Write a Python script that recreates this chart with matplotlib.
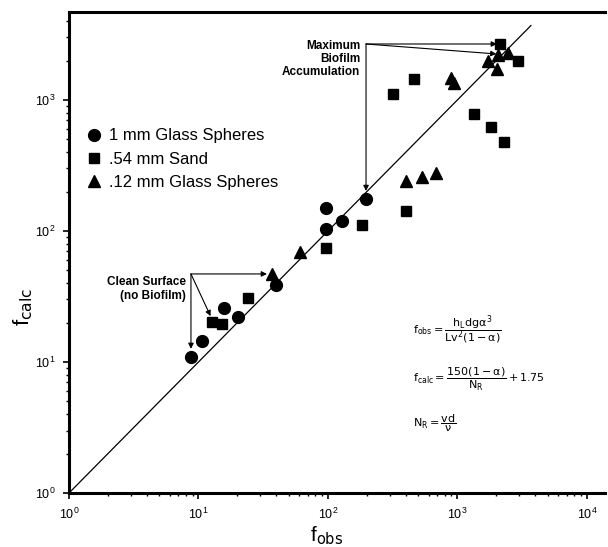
import numpy as np
import matplotlib
matplotlib.use('Agg')
import matplotlib.pyplot as plt
from matplotlib.lines import Line2D

plt.rcParams['font.family'] = ['Liberation Sans', 'DejaVu Sans']
plt.rcParams['mathtext.fontset'] = 'dejavusans'

# ---------------- data (f_obs, f_calc) ----------------
glass1_obs = [8.8, 10.7, 15.7, 20.2, 40, 96, 97, 129, 198]
glass1_calc = [11.0, 14.5, 26, 22.1, 38.7, 103, 149, 120, 175]

sand_obs = [12.8, 15.2, 24.2, 96, 182, 317, 403, 462, 1355, 1824, 2140, 2290, 2950]
sand_calc = [20.3, 19.4, 30.6, 74, 111, 1117, 142, 1445, 782, 622, 2660, 478, 1995]

glass12_obs = [37.3, 60.5, 403, 535, 680, 885, 935, 1714, 2036, 2045, 2455]
glass12_calc = [47, 68.8, 241, 257, 279, 1480, 1341, 1985, 1715, 2200, 2272]

series_labels = ['1 mm Glass Spheres', '.54 mm Sand', '.12 mm Glass Spheres']

# line of perfect agreement
line_x = [1, 3700]
line_y = [1, 3700]

# ---------------- figure ----------------
fig = plt.figure(figsize=(6.08, 5.47), dpi=100)
ax = fig.add_axes([0.1135, 0.0987, 0.8815, 0.879])
ax.set_xscale('log')
ax.set_yscale('log')
ax.set_xlim(1, 10 ** 4.14)
ax.set_ylim(1, 10 ** 3.67)

ax.plot(line_x, line_y, '-', color='black', lw=0.9)

ax.plot(glass1_obs, glass1_calc, 'o', color='black', ms=8.5, ls='none')
ax.plot(sand_obs, sand_calc, 's', color='black', ms=7.5, ls='none')
ax.plot(glass12_obs, glass12_calc, '^', color='black', ms=8, ls='none')

# spines / ticks
for s in ['left', 'bottom', 'top']:
    ax.spines[s].set_linewidth(2.2)
ax.spines['right'].set_visible(False)
ax.tick_params(which='major', direction='out', length=4, width=1.2,
               labelsize=9, pad=6, top=False, right=False)
ax.tick_params(which='minor', direction='out', length=2.5, width=1,
               top=False, right=False)

ax.set_xlabel(r'f$_{\mathrm{obs}}$', fontsize=15)
ax.set_ylabel(r'f$_{\mathrm{calc}}$', fontsize=16)
ax.xaxis.set_label_coords(0.48, -0.088)
ax.xaxis.label.set_va('center')
ax.yaxis.set_label_coords(-0.086, 0.387)
ax.yaxis.label.set_va('center')

# legend
handles = [Line2D([], [], marker=m, color='black', ls='none', ms=ms)
           for m, ms in [('o', 8.5), ('s', 7.5), ('^', 8)]]
ax.legend(handles, series_labels, loc='upper left', bbox_to_anchor=(0.01, 0.772),
          frameon=False, fontsize=12, handletextpad=0.05, labelspacing=0.5,
          borderaxespad=0, handlelength=1.6)

# annotations: Maximum Biofilm Accumulation
arw = dict(arrowstyle='-|>', color='black', lw=0.8, mutation_scale=8,
           shrinkA=0, shrinkB=0)
corner = (197, 2675)
ax.annotate('', xy=(2018, 2675), xytext=corner, arrowprops=arw)
ax.annotate('', xy=(2000, 2245), xytext=corner, arrowprops=arw)
ax.annotate('', xy=(197, 202), xytext=corner, arrowprops=arw)
ax.text(177, 2050, 'Maximum\nBiofilm\nAccumulation', ha='right', va='center',
        fontsize=8.5, fontweight='bold', linespacing=1.15)

# annotations: Clean Surface
corner2 = (8.75, 47)
ax.annotate('', xy=(33.8, 47), xytext=corner2, arrowprops=arw)
ax.annotate('', xy=(12.4, 22.4), xytext=corner2, arrowprops=arw)
ax.annotate('', xy=(8.75, 12.6), xytext=corner2, arrowprops=arw)
ax.text(8.0, 36, 'Clean Surface\n(no Biofilm)', ha='right', va='center',
        fontsize=8.5, fontweight='bold', linespacing=1.2)

# equations
ax.text(0.642, 0.339, r'$\mathrm{f_{obs}=\dfrac{h_L dg\alpha^3}{Lv^2(1-\alpha)}}$',
        transform=ax.transAxes, fontsize=8, ha='left', va='center')
ax.text(0.642, 0.237, r'$\mathrm{f_{calc}=\dfrac{150(1-\alpha)}{N_R}+1.75}$',
        transform=ax.transAxes, fontsize=8, ha='left', va='center')
ax.text(0.642, 0.146, r'$\mathrm{N_R=\dfrac{vd}{\nu}}$',
        transform=ax.transAxes, fontsize=8, ha='left', va='center')

fig.savefig('out.png', dpi=100)
